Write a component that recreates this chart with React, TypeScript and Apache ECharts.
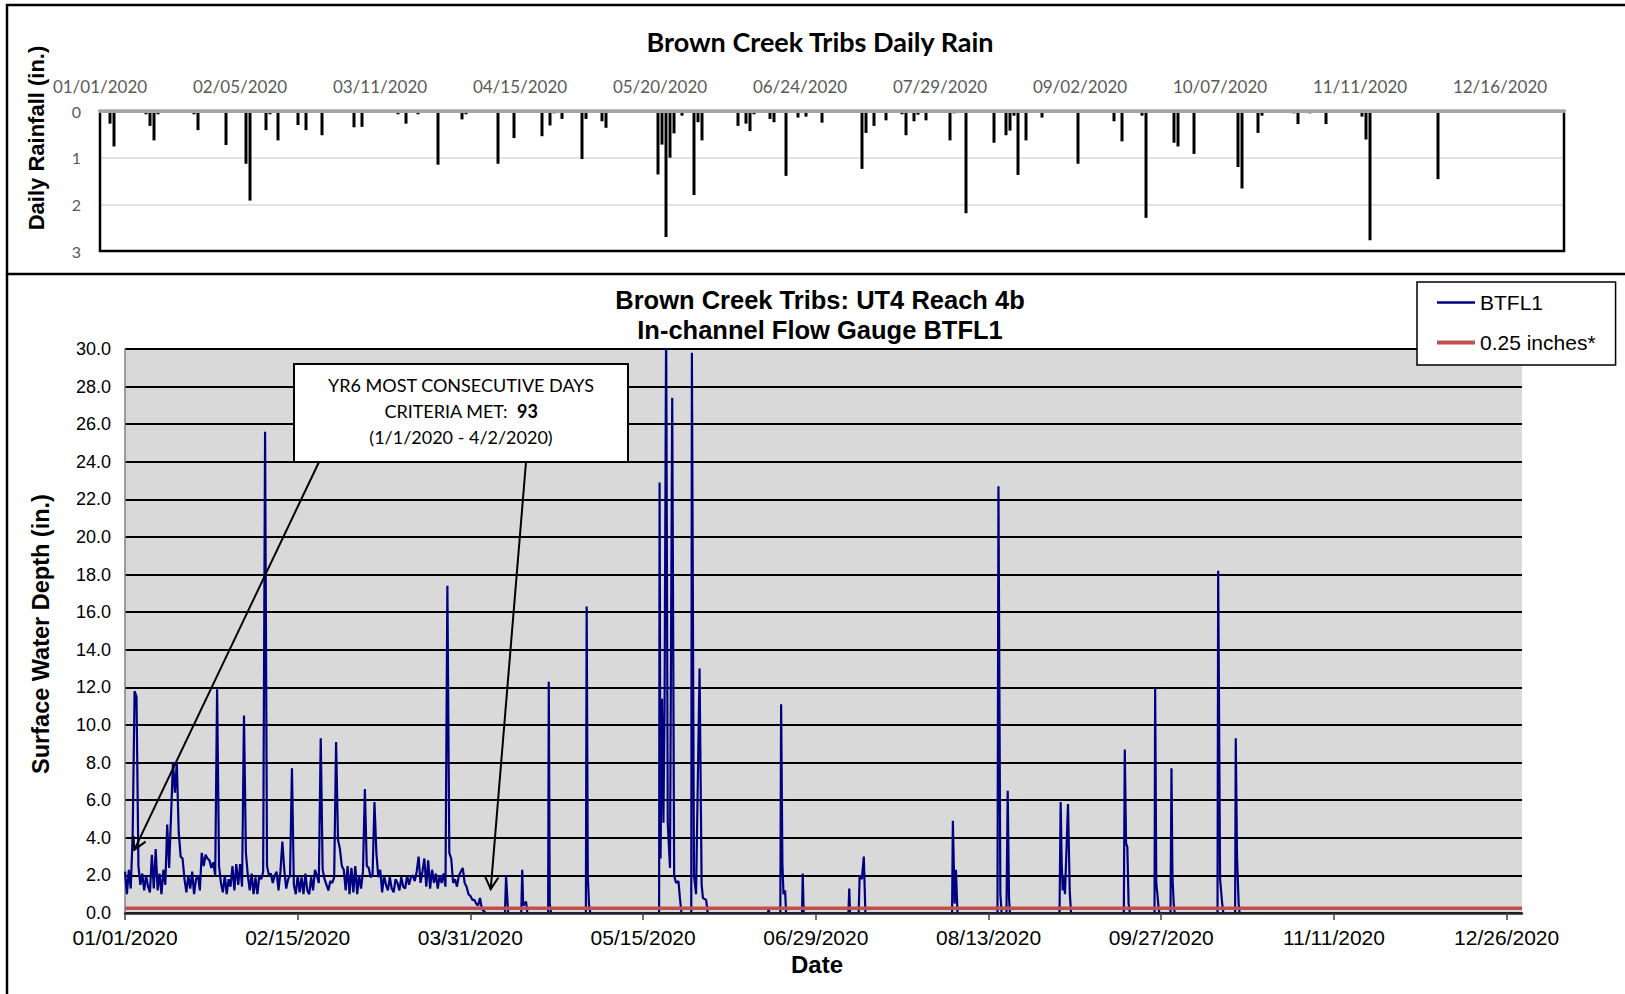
import React, { useEffect, useRef } from "react";
import * as echarts from "echarts";

// ---------- DATA ----------
const YEAR_START = Date.UTC(2020, 0, 1);
const DAY_MS = 86400000;

// Daily rainfall (inches) – top panel
const rainDates: string[] = [
  "01-03","01-04","01-05","01-09","01-12","01-13","01-14","01-15","01-20","01-24","01-25","01-31",
  "02-01","02-05","02-06","02-07","02-11","02-12","02-14","02-17","02-19","02-21","02-25",
  "03-04","03-06","03-15","03-17","03-20","03-24","03-25","03-31",
  "04-01","04-06","04-09","04-13","04-15","04-18","04-20","04-22","04-23","04-25","04-26","04-30",
  "05-01","05-05","05-06","05-08","05-09","05-19","05-20","05-21","05-22","05-23","05-25","05-27","05-28","05-29","05-30",
  "06-08","06-10","06-11","06-12","06-16","06-17","06-20","06-23","06-25","06-29",
  "07-09","07-10","07-12","07-15","07-19","07-20","07-22","07-23","07-25","07-26","07-31",
  "08-01","08-04","08-08","08-11","08-14","08-15","08-16","08-17","08-19","08-20","08-23","08-26","08-31",
  "09-01","09-05","09-10","09-12","09-17","09-18","09-25","09-26","09-30",
  "10-10","10-11","10-12","10-16","10-17","10-25","10-26","10-29",
  "11-02","11-11","11-12","11-13","11-30","12-01",
];
const rainInches: number[] = [
  0.27,0.76,0.02,0.02,0.07,0.32,0.63,0.07,0.02,0.07,0.41,0.02,
  0.73,0.02,1.13,1.92,0.41,0.07,0.63,0.02,0.30,0.41,0.52,
  0.35,0.34,0.07,0.27,0.07,0.04,1.15,0.18,
  0.07,0.02,1.13,0.58,0.04,0.02,0.54,0.31,0.05,0.17,0.04,1.03,
  0.17,0.22,0.36,0.02,0.02,1.36,0.72,2.70,1.00,0.48,0.10,0.02,1.80,0.24,0.63,
  0.32,0.27,0.43,0.07,0.17,0.24,1.39,0.14,0.12,0.25,
  1.24,0.47,0.32,0.20,0.07,0.52,0.22,0.08,0.20,0.04,0.63,
  0.05,2.19,0.04,0.68,0.52,0.42,0.10,1.37,0.63,0.04,0.14,0.02,0.02,
  1.13,0.02,0.22,0.65,0.10,2.29,0.68,0.76,0.92,
  0.04,1.20,1.66,0.47,0.10,0.05,0.28,0.05,
  0.28,0.12,0.61,2.77,1.46,0.03,
];

// BTFL1 surface water depth (in.), readings every 12 h from 2020-01-01 00:00 to 2020-04-04 12:00
const winterDepth: number[] = [
  2.2,1.0, 2.3,1.3, 4.2,11.8, 11.5,2.5, 1.5,2.1, 1.2,2.0, 1.4,1.1,
  3.1,1.3, 3.4,1.2, 2.1,1.0, 2.3,1.5, 4.7,2.4, 5.2,8.0, 6.4,8.0,
  4.3,3.0, 2.9,1.8, 1.1,2.0, 1.3,2.2, 1.0,1.8, 2.0,1.2, 3.2,2.5,
  3.1,2.9, 2.8,2.4, 2.7,2.0, 11.9,2.5, 1.6,1.1, 2.0,1.0, 1.8,1.4,
  2.5,1.2, 2.6,1.5, 2.6,1.4, 10.5,3.2, 2.0,1.2, 2.1,1.0, 1.9,1.0,
  2.0,1.8, 2.2,25.6, 2.5,2.0, 2.1,1.6, 2.0,2.2, 1.2,2.2, 3.8,2.3,
  1.3,1.8, 2.0,7.7, 1.5,1.0, 2.0,1.1, 1.9,1.0, 2.1,1.2, 1.0,1.9,
  1.2,2.3, 2.0,1.6, 9.3,2.3, 1.8,1.5, 1.2,1.7, 1.6,1.9, 9.1,3.9,
  3.4,2.5, 2.3,1.2, 2.5,1.0, 2.4,1.1, 2.5,1.0, 2.0,1.3, 2.2,6.6,
  2.5,2.4, 1.9,2.0, 5.9,3.2, 1.9,2.3, 1.1,2.0, 1.5,1.2, 1.9,1.3,
  1.1,1.8, 1.6,1.2, 1.9,1.4, 1.3,2.0, 1.5,1.9, 2.0,1.7, 2.2,3.0,
  1.6,2.2, 2.9,1.4, 2.8,1.3, 2.3,1.6, 2.1,1.3, 2.0,1.6, 2.1,1.4,
  17.4,3.2, 2.9,1.6, 1.8,1.4, 2.0,2.2, 2.4,1.6, 1.4,1.0, 0.9,0.7,
  0.7,0.5, 0.4,0.8, 0.2,0.1, 0.0,0.0,
];

// BTFL1 storm responses after the channel dried out (timestamp, depth in.)
const stormTimes: string[] = [
  "04-09T00:00","04-09T07:00","04-09T14:00","04-09T20:00",
  "04-13T06:00","04-13T12:00","04-13T18:00","04-14T12:00","04-14T20:00",
  "04-20T06:00","04-20T10:00","04-20T16:00","04-21T00:00",
  "04-30T02:00","04-30T07:00","04-30T14:00","04-30T22:00","05-01T06:00",
  "05-19T04:00","05-19T07:00","05-19T13:00","05-19T22:00","05-20T07:00","05-20T14:00","05-21T00:00",
  "05-21T10:00","05-22T00:00","05-22T14:00","05-23T02:00","05-23T14:00","05-24T05:00","05-24T14:00","05-25T00:00",
  "05-27T13:00","05-27T17:00","05-28T06:00","05-28T19:00","05-29T17:00","05-30T06:00","05-30T14:00","05-31T10:00","05-31T20:00",
  "06-16T12:00","06-16T17:00","06-16T22:00",
  "06-19T18:00","06-19T23:00","06-20T07:00","06-20T14:00","06-21T00:00","06-21T06:00",
  "06-25T10:00","06-25T14:00","06-25T20:00",
  "07-07T12:00","07-07T17:00","07-07T22:00",
  "07-10T04:00","07-10T10:00","07-11T00:00","07-11T12:00","07-11T22:00",
  "08-03T12:00","08-03T17:00","08-04T04:00","08-04T12:00","08-04T22:00",
  "08-15T08:00","08-15T14:00","08-16T02:00","08-16T10:00",
  "08-17T16:00","08-18T00:00","08-18T08:00","08-18T14:00",
  "08-31T12:00","08-31T19:00","09-01T02:00","09-01T08:00","09-01T14:00","09-01T22:00","09-02T17:00","09-03T04:00","09-03T12:00",
  "09-17T06:00","09-17T12:00","09-17T20:00","09-18T04:00","09-18T12:00","09-18T20:00",
  "09-25T06:00","09-25T10:00","09-25T17:00","09-26T00:00","09-26T07:00","09-26T12:00",
  "09-29T10:00","09-29T16:00","09-29T22:00","09-30T06:00","09-30T12:00",
  "10-11T16:00","10-11T20:00","10-12T08:00","10-12T20:00","10-13T04:00",
  "10-16T06:00","10-16T10:00","10-16T18:00","10-17T04:00","10-17T10:00",
];
const stormDepth: number[] = [
  0, 2.0, 0.9, 0,
  0, 2.3, 0.4, 0.6, 0,
  0, 12.3, 0.5, 0,
  0, 16.3, 2.0, 0.4, 0,
  0, 22.9, 2.9, 11.4, 4.8, 11.0, 31.5,
  4.8, 2.4, 27.4, 2.0, 1.6, 1.7, 0.8, 0,
  0, 29.8, 2.0, 1.0, 13.0, 1.5, 0.8, 0.7, 0,
  0, 0.2, 0,
  0, 11.1, 2.6, 1.0, 1.2, 0,
  0, 2.1, 0,
  0, 1.3, 0,
  0, 2.0, 1.8, 3.0, 0,
  0, 4.9, 0.5, 2.3, 0,
  0, 22.7, 1.0, 0,
  0, 6.5, 0.8, 0,
  0, 5.9, 2.5, 1.2, 2.0, 1.0, 5.8, 1.1, 0,
  0, 8.7, 3.7, 3.5, 0.5, 0,
  0, 12.0, 1.6, 1.0, 0.3, 0,
  0, 7.7, 2.0, 0.5, 0,
  0, 18.2, 1.8, 0.6, 0,
  0, 9.3, 3.0, 0.5, 0,
];

const thresholdDepth = 0.25; // inches
const flowAxisEndDate = "2020-12-30";
const rainAxisEndDate = "2021-01-01";
const rainTickDays = [0, 35, 70, 105, 140, 175, 210, 245, 280, 315, 350];
const flowTickDays = [0, 45, 90, 135, 180, 225, 270, 315, 360];
const depthTicks = [0, 2, 4, 6, 8, 10, 12, 14, 16, 18, 20, 22, 24, 26, 28, 30];

// Callout: most consecutive days criteria met, arrows point to start and end of the run
const calloutLines = ["YR6 MOST CONSECUTIVE DAYS", "CRITERIA MET:  ", "93", "(1/1/2020 - 4/2/2020)"];
const calloutTargets: [string, number][] = [
  ["2020-01-03T10:00", 3.36],
  ["2020-04-05T07:00", 1.27],
];

// ---------- HELPERS ----------
const dayOf = (iso: string) => (Date.parse(iso + "Z") - YEAR_START) / DAY_MS;
const fmtDate = (v: number) => {
  const d = new Date(YEAR_START + Math.round(v) * DAY_MS);
  const mm = String(d.getUTCMonth() + 1).padStart(2, "0");
  const dd = String(d.getUTCDate()).padStart(2, "0");
  return `${mm}/${dd}/${d.getUTCFullYear()}`;
};

const rainPoints = rainDates.map((md, i) => [dayOf(`2020-${md}T12:00`), rainInches[i]]);
const flowPoints = [
  ...winterDepth.map((v, i) => [i / 2, v]),
  ...stormTimes.map((t, i) => [dayOf(`2020-${t}`), stormDepth[i]]),
];
const flowMax = dayOf(`${flowAxisEndDate}T00:00`);
const rainMax = dayOf(`${rainAxisEndDate}T00:00`);

const ARIAL = "'Liberation Sans', Arial, sans-serif";
const CAL = "Lato, 'Open Sans', sans-serif";

// ---------- LAYOUT ----------
const RAIN = { left: 100, top: 111, width: 1464, height: 140 };
const FLOW = { left: 125, top: 349, width: 1397, height: 564 };
const BOX = { x: 294, y: 364, w: 334, h: 98 };
const ARROW_STARTS = [25, 232]; // offsets along bottom of callout box

export default function App() {
  const ref = useRef<HTMLDivElement>(null);

  useEffect(() => {
    if (!ref.current) return;
    const chart = echarts.init(ref.current, null, { renderer: "svg" });

    const baseGraphics: any[] = [
      { id: "frameTop", type: "rect", z: 10, silent: true,
        shape: { x: 7, y: 5, width: 1700, height: 269 },
        style: { fill: "none", stroke: "#000", lineWidth: 2.5 } },
      { id: "frameLeft", type: "line", z: 10, silent: true,
        shape: { x1: 7, y1: 274, x2: 7, y2: 1000 },
        style: { stroke: "#000", lineWidth: 2.5 } },
      { id: "rainTitle", type: "text", x: 820, y: 41, z: 10,
        style: { text: "Brown Creek Tribs Daily Rain", fontFamily: CAL, fontWeight: "bold",
          fontSize: 27, fill: "#000", align: "center", verticalAlign: "middle" } },
      { id: "rainYName", type: "text", x: 36, y: 138, rotation: Math.PI / 2, z: 10,
        style: { text: "Daily Rainfall (in.)", fontFamily: ARIAL, fontWeight: "bold",
          fontSize: 22, fill: "#000", align: "center", verticalAlign: "middle" } },
      { id: "flowTitle1", type: "text", x: 820, y: 300, z: 10,
        style: { text: "Brown Creek Tribs: UT4 Reach 4b", fontFamily: ARIAL, fontWeight: "bold",
          fontSize: 25.5, fill: "#000", align: "center", verticalAlign: "middle" } },
      { id: "flowTitle2", type: "text", x: 820, y: 330, z: 10,
        style: { text: "In-channel Flow Gauge BTFL1", fontFamily: ARIAL, fontWeight: "bold",
          fontSize: 25.5, fill: "#000", align: "center", verticalAlign: "middle" } },
      { id: "flowYName", type: "text", x: 41, y: 634, rotation: Math.PI / 2, z: 10,
        style: { text: "Surface Water Depth (in.)", fontFamily: ARIAL, fontWeight: "bold",
          fontSize: 23.5, fill: "#000", align: "center", verticalAlign: "middle" } },
      { id: "flowXName", type: "text", x: 817, y: 964, z: 10,
        style: { text: "Date", fontFamily: ARIAL, fontWeight: "bold",
          fontSize: 24, fill: "#000", align: "center", verticalAlign: "middle" } },
      { id: "calloutBox", type: "rect", z: 20, silent: true,
        shape: { x: BOX.x, y: BOX.y, width: BOX.w, height: BOX.h },
        style: { fill: "#fff", stroke: "#000", lineWidth: 2 } },
      { id: "calloutL1", type: "text", x: BOX.x + BOX.w / 2, y: BOX.y + 21, z: 21,
        style: { text: calloutLines[0], fontFamily: CAL, fontSize: 18, fill: "#000",
          align: "center", verticalAlign: "middle" } },
      { id: "calloutL2", type: "text", x: BOX.x + BOX.w / 2, y: BOX.y + 47, z: 21,
        style: { text: `{n|${calloutLines[1]}}{b|${calloutLines[2]}}`, align: "center", verticalAlign: "middle",
          rich: { n: { fontFamily: CAL, fontSize: 18, fill: "#000" },
                  b: { fontFamily: CAL, fontSize: 18, fontWeight: "bold", fill: "#000" } } } },
      { id: "calloutL3", type: "text", x: BOX.x + BOX.w / 2, y: BOX.y + 73, z: 21,
        style: { text: calloutLines[3], fontFamily: CAL, fontSize: 18, fill: "#000",
          align: "center", verticalAlign: "middle" } },
    ];

    const option: any = {
      animation: false,
      backgroundColor: "#fff",
      grid: [
        { ...RAIN, show: true, borderColor: "#000", borderWidth: 2.5, backgroundColor: "transparent", z: 3 },
        { ...FLOW, show: true, borderWidth: 0, backgroundColor: "#d9d9d9" },
      ],
      xAxis: [
        {
          type: "value", gridIndex: 0, position: "top", min: 0, max: rainMax, interval: 35, z: 5,
          axisLine: { show: true, onZero: false, lineStyle: { color: "#a6a6a6", width: 3 } },
          axisTick: { show: false },
          splitLine: { show: false },
          axisLabel: {
            color: "#595959", fontFamily: CAL, fontSize: 17, margin: 16,
            customValues: rainTickDays,
            formatter: (v: number) => (rainTickDays.includes(Math.round(v)) ? fmtDate(v) : ""),
          },
        },
        {
          type: "value", gridIndex: 1, min: 0, max: flowMax, interval: 45, z: 5,
          axisLine: { show: true, onZero: false, lineStyle: { color: "#262626", width: 2.5 } },
          axisTick: { show: true, length: 7, customValues: flowTickDays, lineStyle: { color: "#404040", width: 1.5 } },
          splitLine: { show: false },
          axisLabel: {
            color: "#000", fontFamily: ARIAL, fontSize: 21, margin: 14,
            customValues: flowTickDays,
            formatter: (v: number) => (flowTickDays.includes(Math.round(v)) ? fmtDate(v) : ""),
          },
        },
      ],
      yAxis: [
        {
          type: "value", gridIndex: 0, inverse: true, min: 0, max: 3, interval: 1,
          axisLine: { show: false }, axisTick: { show: false },
          splitLine: { show: true, lineStyle: { color: "#d9d9d9", width: 1.5 } },
          axisLabel: { color: "#595959", fontFamily: CAL, fontSize: 16, margin: 19 },
        },
        {
          type: "value", gridIndex: 1, min: 0, max: 30, interval: 2,
          axisLine: { show: true, lineStyle: { color: "#808080", width: 1.5 } },
          axisTick: { show: false },
          splitLine: { show: true, lineStyle: { color: "#000", width: 2 } },
          axisLabel: {
            color: "#000", fontFamily: ARIAL, fontSize: 18, margin: 14,
            customValues: depthTicks,
            formatter: (v: number) => v.toFixed(1),
          },
        },
      ],
      legend: {
        data: [
          { name: "BTFL1", lineStyle: { width: 2.5, color: "#000080" } },
          { name: "0.25 inches*", lineStyle: { width: 4, color: "#c0504d" } },
        ],
        orient: "vertical", left: 1417, top: 282,
        backgroundColor: "#fff", borderColor: "#000", borderWidth: 1.5,
        padding: [10, 20, 12, 18], itemWidth: 38, itemHeight: 20, itemGap: 19,
        itemStyle: { opacity: 0, borderWidth: 0 },
        textStyle: { fontFamily: ARIAL, fontSize: 21, color: "#000" },
      },
      series: [
        {
          name: "Daily Rain", type: "bar", xAxisIndex: 0, yAxisIndex: 0,
          data: rainPoints, barWidth: 3, itemStyle: { color: "#000" }, z: 2,
        },
        {
          name: "BTFL1", type: "line", xAxisIndex: 1, yAxisIndex: 1,
          data: flowPoints, symbol: "none", showSymbol: false, clip: true,
          lineStyle: { color: "#000080", width: 2.2 }, itemStyle: { color: "#000080" }, z: 3,
        },
        {
          name: "0.25 inches*", type: "line", xAxisIndex: 1, yAxisIndex: 1,
          data: [[0, thresholdDepth], [flowMax, thresholdDepth]], symbol: "none", showSymbol: false,
          lineStyle: { color: "#c0504d", width: 3.5 }, itemStyle: { color: "#c0504d" }, z: 4,
        },
      ],
      graphic: { elements: baseGraphics },
    };

    chart.setOption(option);

    // arrows from callout box to the data points they reference
    const arrowGraphics: any[] = [];
    calloutTargets.forEach(([t, v], i) => {
      const tip = chart.convertToPixel({ xAxisIndex: 1, yAxisIndex: 1 }, [dayOf(t), v]) as number[];
      const sx = BOX.x + ARROW_STARTS[i];
      const sy = BOX.y + BOX.h;
      const dx = tip[0] - sx, dy = tip[1] - sy;
      const len = Math.hypot(dx, dy);
      const ux = dx / len, uy = dy / len;
      const L = 14, a = 0.5;
      const rot = (ang: number) => [
        tip[0] - L * (ux * Math.cos(ang) - uy * Math.sin(ang)),
        tip[1] - L * (ux * Math.sin(ang) + uy * Math.cos(ang)),
      ];
      arrowGraphics.push({
        id: `arrowLine${i}`, type: "line", z: 19, silent: true,
        shape: { x1: sx, y1: sy, x2: tip[0], y2: tip[1] },
        style: { stroke: "#000", lineWidth: 2 },
      });
      arrowGraphics.push({
        id: `arrowHead${i}`, type: "polyline", z: 19, silent: true,
        shape: { points: [rot(a), tip, rot(-a)] },
        style: { stroke: "#000", lineWidth: 2, fill: "none" },
      });
    });
    chart.setOption({ graphic: { elements: [...baseGraphics, ...arrowGraphics] } });

    return () => chart.dispose();
  }, []);

  return (
    <div
      ref={ref}
      style={{ position: "absolute", left: 0, top: 0, width: 1625, height: 994, background: "#fff" }}
    />
  );
}
